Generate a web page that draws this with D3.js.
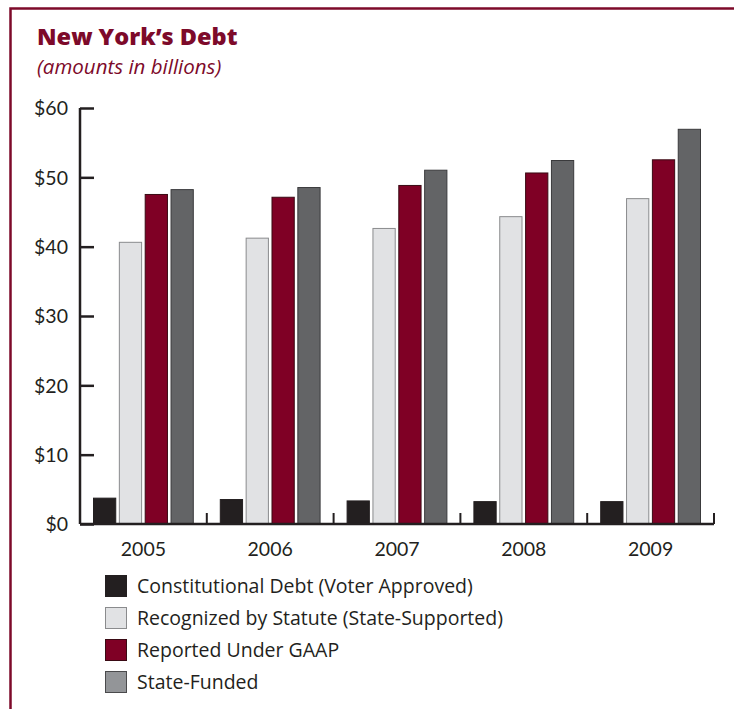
<!DOCTYPE html>
<html>
<head>
<meta charset="utf-8">
<script src="https://cdn.jsdelivr.net/npm/d3@7"></script>
<style>
  html, body { margin: 0; padding: 0; background: #fff; }
  svg { display: block; }
</style>
</head>
<body>
<svg id="chart" width="734" height="709"></svg>
<script>
// Fiscal years on the x axis
const years = ["2005", "2006", "2007", "2008", "2009"];

// Debt series, billions of dollars
const seriesNames = [
  "Constitutional Debt (Voter Approved)",
  "Recognized by Statute (State-Supported)",
  "Reported Under GAAP",
  "State-Funded"
];
const constitutional = [3.8, 3.6, 3.4, 3.3, 3.3];
const statute        = [40.7, 41.3, 42.7, 44.4, 47.0];
const gaap           = [47.6, 47.2, 48.9, 50.7, 52.6];
const stateFunded    = [48.3, 48.6, 51.1, 52.5, 57.0];

const yTicks = [0, 10, 20, 30, 40, 50, 60];

const seriesValues = [constitutional, statute, gaap, stateFunded];
const fills   = ["#231f20", "#e1e2e4", "#7f0025", "#636466"];
const strokes = ["#231f20", "#8a8b8d", "#3a0a14", "#3a3a3c"];
const maroon = "#7d0a2a";
const textColor = "#231f20";
const numFont = "'Lato', 'Open Sans', sans-serif";
const textFont = "'Open Sans', 'Lato', sans-serif";

const svg = d3.select("#chart");

// Page frame: rule across the top and down the left side
svg.append("path")
  .attr("d", "M10.5,709 V8.5 H734")
  .attr("fill", "none")
  .attr("stroke", maroon)
  .attr("stroke-width", 2.5);

// Title block
svg.append("text")
  .attr("x", 37).attr("y", 45)
  .attr("font-family", textFont)
  .attr("font-weight", 800)
  .attr("font-size", 23.5)
  .attr("fill", maroon)
  .text("New York\u2019s Debt");

svg.append("text")
  .attr("x", 37).attr("y", 74)
  .attr("font-family", textFont)
  .attr("font-style", "italic")
  .attr("font-size", 20.5)
  .attr("fill", maroon)
  .text("(amounts in billions)");

// Scales
const x0 = d3.scaleBand().domain(years).range([80, 714]).paddingInner(0).paddingOuter(0);
const x1 = d3.scaleBand().domain(d3.range(seriesNames.length))
  .range([13, x0.bandwidth() - 13]).paddingInner(0.1).paddingOuter(0);
const y = d3.scaleLinear().domain([0, 60]).range([524, 108]);

// Bars
const groups = svg.append("g").selectAll("g")
  .data(years)
  .join("g")
  .attr("transform", d => `translate(${x0(d)},0)`);

groups.selectAll("rect")
  .data((yr, i) => seriesValues.map((vals, s) => ({ s, v: vals[i] })))
  .join("rect")
  .attr("x", d => x1(d.s) + 0.5)
  .attr("y", d => y(d.v) + 0.5)
  .attr("width", x1.bandwidth() - 1)
  .attr("height", d => y(0) - y(d.v) - 0.5)
  .attr("fill", d => fills[d.s])
  .attr("stroke", d => strokes[d.s])
  .attr("stroke-width", 1);

// Y axis: ticks point inward toward the bars
const yAxis = d3.axisRight(y)
  .tickValues(yTicks)
  .tickSize(14)
  .tickFormat(d => "$" + d);

const yg = svg.append("g")
  .attr("transform", "translate(80,0)")
  .call(yAxis);
yg.select(".domain")
  .attr("d", `M0,${y(60)} V${y(0)}`)
  .attr("stroke", textColor).attr("stroke-width", 2.5);
yg.selectAll(".tick line").attr("stroke", textColor).attr("stroke-width", 2.5);
yg.selectAll(".tick text")
  .attr("x", -12)
  .attr("dy", "0.35em")
  .attr("text-anchor", "end")
  .attr("font-family", numFont)
  .attr("font-size", 19.5)
  .attr("fill", textColor);

// X axis baseline with short separators between year groups
const xg = svg.append("g").attr("transform", `translate(0,${y(0)})`);
xg.append("line")
  .attr("x1", 80).attr("x2", 714)
  .attr("y1", 0).attr("y2", 0)
  .attr("stroke", textColor).attr("stroke-width", 2.5);
xg.selectAll("line.sep")
  .data(years.slice(1).concat(["end"]))
  .join("line")
  .attr("class", "sep")
  .attr("x1", (d, i) => i < years.length - 1 ? x0(d) : x0(years[years.length - 1]) + x0.bandwidth())
  .attr("x2", (d, i) => i < years.length - 1 ? x0(d) : x0(years[years.length - 1]) + x0.bandwidth())
  .attr("y1", 0).attr("y2", -11)
  .attr("stroke", textColor).attr("stroke-width", 2);
xg.selectAll("text")
  .data(years)
  .join("text")
  .attr("x", d => x0(d) + x0.bandwidth() / 2)
  .attr("y", 32)
  .attr("text-anchor", "middle")
  .attr("font-family", numFont)
  .attr("font-size", 19.5)
  .attr("fill", textColor)
  .text(d => d);

// Legend
const legend = svg.append("g").attr("transform", "translate(105,575)");
const items = legend.selectAll("g")
  .data(seriesNames)
  .join("g")
  .attr("transform", (d, i) => `translate(0,${i * 32})`);
items.append("rect")
  .attr("x", 0.5).attr("y", 0.5)
  .attr("width", 21).attr("height", 21)
  .attr("fill", (d, i) => i === 3 ? "#939598" : fills[i])
  .attr("stroke", (d, i) => i === 1 ? "#8a8b8d" : (i === 3 ? "#4a4a4c" : strokes[i]))
  .attr("stroke-width", 1);
items.append("text")
  .attr("x", 32).attr("y", 11)
  .attr("dy", "0.35em")
  .attr("font-family", textFont)
  .attr("font-size", 19.5)
  .attr("fill", textColor)
  .text(d => d);
</script>
</body>
</html>
